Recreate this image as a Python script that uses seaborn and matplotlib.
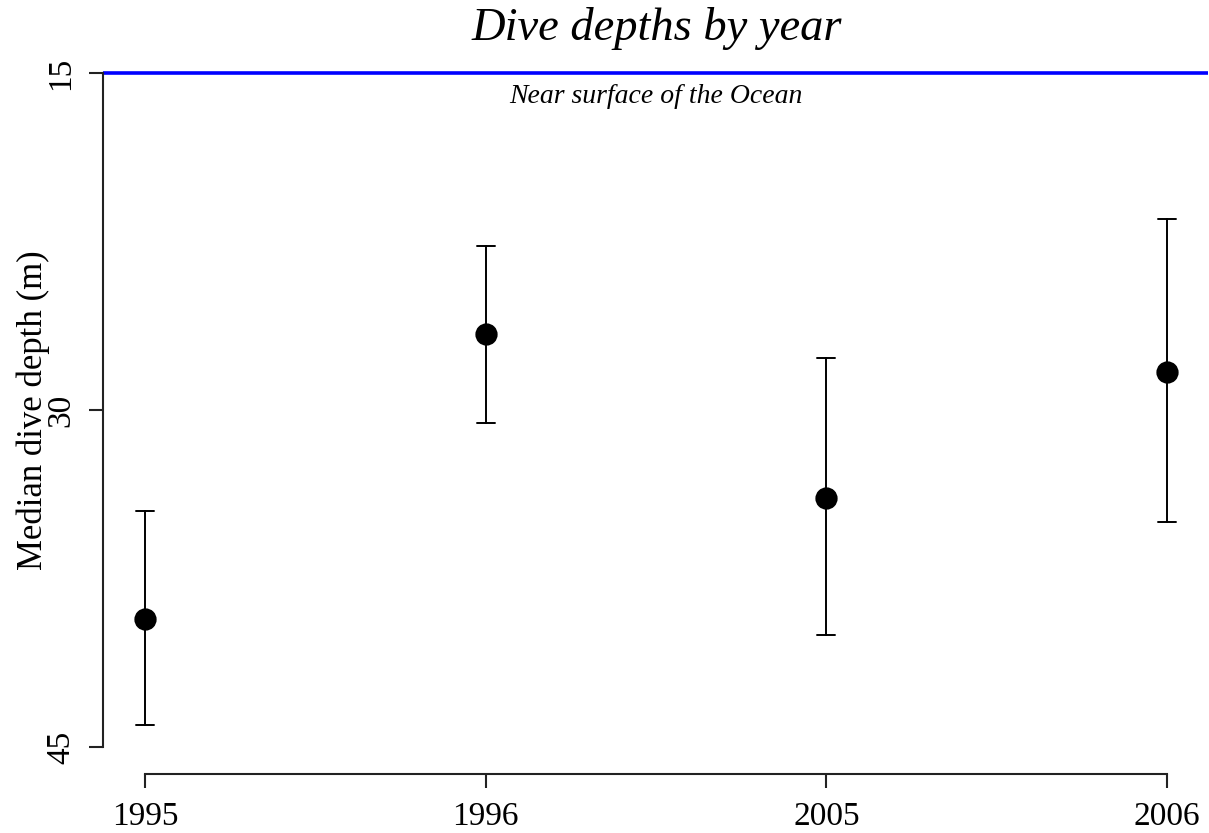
import numpy as np
import pandas as pd
import matplotlib
matplotlib.use("Agg")
import matplotlib.pyplot as plt
import seaborn as sns

# Data
years = ["1995", "1996", "2005", "2006"]
median_depth = [39.3, 26.6, 33.9, 28.3]
lower_depth = [34.5, 22.7, 27.7, 21.5]   # shallower end of interval
upper_depth = [44.0, 30.6, 40.0, 35.0]   # deeper end of interval
y_ticks = [15, 30, 45]
surface_depth = 15

rows = []
for yr, lo, md, hi in zip(years, lower_depth, median_depth, upper_depth):
    for v in (lo, md, hi):
        rows.append({"year": yr, "depth": v})
df = pd.DataFrame(rows)

sns.set_theme(style="white")
plt.rcParams["font.family"] = ["Liberation Serif", "DejaVu Serif"]
plt.rcParams.update({
    "text.color": "black",
    "axes.labelcolor": "black",
    "xtick.color": "black",
    "ytick.color": "black",
    "axes.edgecolor": "black",
})

W, H = 1209, 833
fig = plt.figure(figsize=(W / 100, H / 100), dpi=100)
ax = fig.add_axes([103 / W, 1 - 774 / H, (1208 - 103) / W, (774 - 46) / H])

sns.pointplot(data=df, x="year", y="depth", order=years,
              estimator=np.median, errorbar=("pi", 100),
              linestyle="none", marker="o", markersize=14,
              color="black", capsize=0.053,
              err_kws={"linewidth": 1.4, "color": "black"}, ax=ax)

# Invert depth axis, R-style 4% padding
ax.set_ylim(46.2, 13.8)
ax.set_xlim(-0.123, 3.12)

ax.axhline(surface_depth, color="#0000ff", linewidth=2.6, zorder=1)
ax.text(1.5, 15.5, "Near surface of the Ocean", ha="center", va="top",
        fontsize=20, style="italic", color="black")

# Axes styling (R base look)
for s in ["top", "right"]:
    ax.spines[s].set_visible(False)
ax.spines["left"].set_bounds(15, 45)
ax.spines["bottom"].set_bounds(0, 3)
for s in ["left", "bottom"]:
    ax.spines[s].set_color("#222222")
    ax.spines[s].set_linewidth(1.5)

ax.set_yticks(y_ticks)
ax.set_yticklabels([str(t) for t in y_ticks], rotation=90, va="center",
                   fontsize=24)
ax.tick_params(axis="both", direction="out", length=10, width=1.5,
               color="#222222", left=True, bottom=True, labelsize=24)
ax.tick_params(axis="y", pad=9.5)
ax.tick_params(axis="x", pad=10)
ax.set_xticks(range(len(years)))
ax.set_xticklabels(years, fontsize=24)
ax.set_xlabel("")
ax.set_ylabel("Median dive depth (m)", fontsize=25)
ax.yaxis.set_label_coords(-0.048, 0.5)

fig.text(657 / W, 1 - 28 / H, "Dive depths by year", ha="center",
         va="center", fontsize=33.5, style="italic")

fig.savefig("out.png", dpi=100)
